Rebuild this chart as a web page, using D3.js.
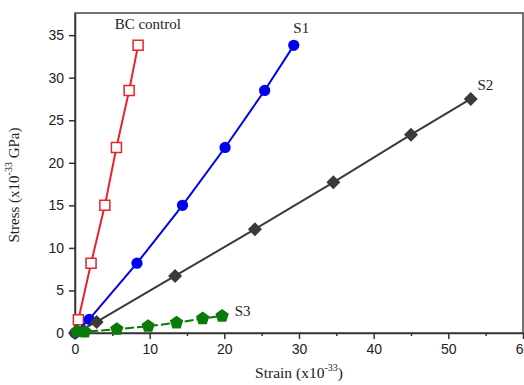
<!DOCTYPE html>
<html>
<head>
<meta charset="utf-8">
<script src="https://cdn.jsdelivr.net/npm/d3@7"></script>
<style>
  body { margin: 0; background: #fff; }
  svg { font-family: "Liberation Serif", "Times New Roman", serif; }
  .axis path, .axis line { stroke: #333; stroke-width: 1.5; }
  .axis text { font-size: 14px; fill: #222; }
</style>
</head>
<body>
<div id="chart"></div>
<script>
// data (strain x1e-33, stress x1e-33 GPa)
const bcStrain = [0, 0.45, 2.15, 4.0, 5.55, 7.25, 8.45];
const bcStress = [0, 1.55, 8.2, 15.0, 21.8, 28.5, 33.8];
const s1Strain = [0, 1.9, 8.3, 14.4, 20.1, 25.4, 29.3];
const s1Stress = [0, 1.6, 8.2, 15.0, 21.8, 28.5, 33.8];
const s2Strain = [0, 2.9, 13.4, 24.1, 34.6, 45.0, 53.0];
const s2Stress = [0, 1.3, 6.7, 12.2, 17.7, 23.3, 27.5];
const s3Strain = [0.3, 1.3, 5.6, 9.8, 13.6, 17.1, 19.7];
const s3Stress = [0.2, 0.15, 0.45, 0.8, 1.2, 1.7, 2.0];
const xTicks = [0, 10, 20, 30, 40, 50, 60];
const yTicks = [0, 5, 10, 15, 20, 25, 30, 35];

const width = 524, height = 385;
const margin = { top: 13, right: 1, bottom: 52, left: 75 };

const svg = d3.select('#chart').append('svg')
  .attr('width', width).attr('height', height);

const x = d3.scaleLinear().domain([0, 60]).range([margin.left, width - margin.right]);
const y = d3.scaleLinear().domain([0, 37.6]).range([height - margin.bottom, margin.top]);

// frame
svg.append('rect')
  .attr('x', x(0)).attr('y', y(37.6))
  .attr('width', x(60) - x(0)).attr('height', y(0) - y(37.6))
  .attr('fill', 'none').attr('stroke', '#444').attr('stroke-width', 1.5);

// axes, x gets minor ticks too
svg.append('g').attr('class', 'axis')
  .attr('transform', `translate(0,${y(0)})`)
  .call(d3.axisBottom(x).tickValues(xTicks).tickSize(6).tickSizeOuter(0).tickPadding(5));
svg.append('g').attr('class', 'axis')
  .attr('transform', `translate(0,${y(0)})`)
  .call(d3.axisBottom(x).tickValues(d3.range(5, 60, 10)).tickSize(3).tickFormat(''))
  .select('.domain').remove();
svg.append('g').attr('class', 'axis')
  .attr('transform', `translate(${x(0)},0)`)
  .call(d3.axisLeft(y).tickValues(yTicks).tickSize(6).tickSizeOuter(0).tickPadding(5));

// axis titles
const xt = svg.append('text')
  .attr('x', 299).attr('y', 378)
  .attr('text-anchor', 'middle').attr('font-size', 15.5).attr('fill', '#222');
xt.append('tspan').text('Strain (x10');
xt.append('tspan').attr('dy', -7).attr('font-size', 10).text('-33');
xt.append('tspan').attr('dy', 7).text(')');

const yt = svg.append('text')
  .attr('transform', `translate(19,${(y(0) + y(37.6)) / 2 + 12}) rotate(-90)`)
  .attr('text-anchor', 'middle').attr('font-size', 15).attr('fill', '#222');
yt.append('tspan').text('Stress (x10');
yt.append('tspan').attr('dy', -7).attr('font-size', 10).text('-33');
yt.append('tspan').attr('dy', 7).text(' GPa)');

const series = [
  { name: 'BC control', xs: bcStrain, ys: bcStress, color: '#e8232a', shape: 'square', dash: null },
  { name: 'S1', xs: s1Strain, ys: s1Stress, color: '#0000f0', shape: 'circle', dash: null },
  { name: 'S2', xs: s2Strain, ys: s2Stress, color: '#3a3a3a', shape: 'diamond', dash: null },
  { name: 'S3', xs: s3Strain, ys: s3Stress, color: '#0a7a0a', shape: 'pentagon', dash: '9,3' },
];

const line = d3.line().x(d => x(d[0])).y(d => y(d[1]));

function pentagon(r) {
  const pts = d3.range(5).map(i => {
    const a = -Math.PI / 2 + i * 2 * Math.PI / 5;
    return [r * Math.cos(a), r * Math.sin(a)];
  });
  return 'M' + pts.join('L') + 'Z';
}

series.forEach(s => {
  const pts = s.xs.map((v, i) => [v, s.ys[i]]);
  svg.append('path').datum(pts)
    .attr('d', line).attr('fill', 'none')
    .attr('stroke', s.color).attr('stroke-width', 2)
    .attr('stroke-dasharray', s.dash);

  const marks = svg.append('g').selectAll('path').data(pts).enter().append('path')
    .attr('transform', d => `translate(${x(d[0])},${y(d[1])})`);
  if (s.shape === 'square') {
    marks.filter((d, i) => i > 0)
      .attr('d', 'M-5,-5H5V5H-5Z').attr('fill', '#fff')
      .attr('stroke', s.color).attr('stroke-width', 1.5);
  } else if (s.shape === 'circle') {
    marks.attr('d', d3.symbol(d3.symbolCircle, 100)()).attr('fill', s.color);
  } else if (s.shape === 'diamond') {
    marks.attr('d', 'M0,-7L7,0L0,7L-7,0Z').attr('fill', s.color);
  } else {
    marks.attr('d', pentagon(7)).attr('fill', s.color);
  }
});

// series labels
const labels = [
  { text: 'BC control', x: 9.75, y: 35.7, anchor: 'middle' },
  { text: 'S1', x: 30.3, y: 35.3, anchor: 'middle' },
  { text: 'S2', x: 53.9, y: 28.6, anchor: 'start' },
  { text: 'S3', x: 21.4, y: 2.0, anchor: 'start' },
];
svg.append('g').selectAll('text').data(labels).enter().append('text')
  .attr('x', d => x(d.x)).attr('y', d => y(d.y))
  .attr('text-anchor', d => d.anchor)
  .attr('font-size', 15).attr('fill', '#222')
  .text(d => d.text);
</script>
</body>
</html>
